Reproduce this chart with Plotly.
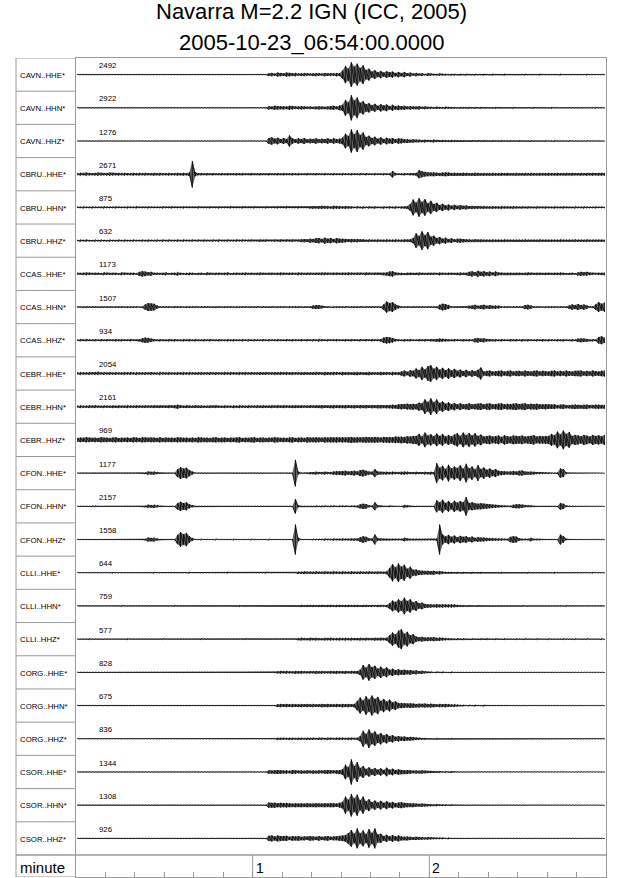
import plotly.graph_objects as go

# seismogram section, 3 minutes from 2005-10-23 06:54:00
# each list: peak amplitude per second (in % of a row height)
title_1 = "Navarra M=2.2 IGN (ICC, 2005)"
title_2 = "2005-10-23_06:54:00.0000"

channels = ["CAVN..HHE*", "CAVN..HHN*", "CAVN..HHZ*",
            "CBRU..HHE*", "CBRU..HHN*", "CBRU..HHZ*",
            "CCAS..HHE*", "CCAS..HHN*", "CCAS..HHZ*",
            "CEBR..HHE*", "CEBR..HHN*", "CEBR..HHZ*",
            "CFON..HHE*", "CFON..HHN*", "CFON..HHZ*",
            "CLLI..HHE*", "CLLI..HHN*", "CLLI..HHZ*",
            "CORG..HHE*", "CORG..HHN*", "CORG..HHZ*",
            "CSOR..HHE*", "CSOR..HHN*", "CSOR..HHZ*"]
max_counts = [2492, 2922, 1276, 2671, 875, 632, 1173, 1507, 934, 2054, 2161, 969,
              1177, 2157, 1558, 644, 759, 577, 828, 675, 836, 1344, 1308, 926]

cavn_hhe = [1,1,1,1,1,1,1,1,1,1, 1,1,1,1,1,1,1,1,1,1, 1,1,1,1,1,1,1,1,1,1,
            1,1,1,1,1,1,1,1,1,1, 1,1,1,1,1,1,1,1,1,1, 1,1,1,1,1,1,1,1,1,1,
            1,1,1,1,1,4,5,3,6,5, 4,6,5,4,5,3,4,5,4,3, 4,5,4,3,5,4,4,3,5,4,
            12,26,18,37,24,33,20,28,14,18, 9,13,7,11,6,10,7,9,5,8, 5,8,4,6,3,5,3,4,2,4,
            3,2,2,3,2,2,1,2,2,1, 2,1,2,1,1,2,1,1,2,1, 1,2,1,1,1,2,1,1,1,1,
            1,1,2,1,1,1,1,2,1,1, 1,1,1,1,2,1,1,1,1,1, 1,1,1,2,1,1,1,1,1,1]
cavn_hhn = [1,1,1,1,1,1,1,1,1,1, 1,1,1,1,1,1,1,1,1,1, 1,1,1,1,1,1,1,1,1,1,
            1,1,1,1,1,1,1,1,1,1, 1,1,1,1,1,1,1,1,1,1, 1,1,1,1,1,1,1,1,1,1,
            1,1,1,1,1,5,4,6,5,4, 5,4,6,5,3,4,5,4,3,4, 3,4,5,4,3,4,5,6,4,7,
            9,24,16,38,22,31,15,20,11,14, 8,12,6,11,7,10,5,9,5,7, 5,6,4,5,4,4,5,3,4,3,
            3,2,3,2,2,3,2,2,2,1, 2,2,1,2,1,2,1,2,1,1, 1,1,2,1,1,1,1,1,2,1,
            1,1,1,1,1,2,1,1,1,1, 1,2,1,1,1,1,1,1,1,1, 1,1,1,1,1,1,2,1,1,1]
cavn_hhz = [1,1,1,1,1,1,1,1,1,1, 1,1,1,1,1,1,1,1,1,1, 1,1,1,1,1,1,1,1,1,1,
            1,1,1,1,1,1,1,1,1,1, 1,1,1,1,1,1,1,1,1,1, 1,1,1,1,1,1,1,1,1,1,
            1,1,1,1,1,9,11,7,10,6, 9,6,17,8,5,8,6,9,5,7, 6,8,5,7,6,8,5,8,6,7,
            10,22,15,35,20,33,18,26,12,16, 9,13,7,11,6,10,7,9,5,8, 7,5,6,4,5,4,4,3,4,3,
            3,4,3,2,3,2,2,3,2,2, 2,2,1,2,2,1,2,1,2,1, 1,2,1,1,2,1,1,2,1,1,
            2,1,1,1,2,1,1,1,1,2, 1,1,2,1,1,1,1,2,1,1, 1,1,1,2,1,1,1,1,1,1]
cbru_hhe = [3,4,3,5,4,3,4,5,4,3, 4,5,4,3,4,3,4,3,3,4, 3,4,3,4,3,3,4,3,4,3,
            3,4,3,3,4,3,4,3,5,40, 6,3,3,2,3,2,3,2,2,3, 2,3,2,2,3,2,3,2,2,3,
            2,2,3,2,2,3,2,2,3,2, 3,2,2,3,2,3,2,2,3,2, 2,3,2,2,3,2,2,3,2,2,
            3,2,2,3,2,2,3,2,3,2, 2,3,2,2,3,2,2,10,3,2, 2,3,2,3,3,4,12,9,7,6,
            5,6,5,4,5,6,5,4,5,4, 4,5,4,3,4,5,4,3,4,3, 3,4,3,3,4,3,4,3,3,4,
            3,3,4,3,4,3,3,4,3,3, 4,3,3,4,3,3,4,3,4,3, 3,4,3,4,3,4,3,4,4,4]
cbru_hhn = [2,2,3,2,2,3,2,2,2,3, 2,2,2,3,2,2,2,3,2,2, 3,2,2,2,3,2,2,2,2,3,
            2,2,3,2,2,2,3,2,2,2, 2,3,2,2,2,3,2,2,3,2, 2,2,3,2,2,2,3,2,2,2,
            3,2,2,2,3,2,2,2,3,2, 2,3,2,2,2,3,2,2,2,3, 4,3,4,5,4,4,3,5,4,4,
            3,4,3,3,2,3,2,3,2,3, 2,3,2,2,3,2,3,2,3,2, 3,3,4,10,24,14,28,16,25,12,
            20,10,14,7,11,6,9,5,8,5, 7,5,6,4,5,4,4,3,4,3, 3,4,3,3,4,3,3,3,4,3,
            2,3,2,3,2,2,3,2,2,3, 2,2,3,2,2,3,2,2,2,3, 2,2,3,2,2,2,3,2,2,2]
cbru_hhz = [2,3,2,3,2,2,3,2,3,2, 2,3,2,2,3,2,3,2,2,3, 2,2,3,2,3,2,2,3,2,3,
            2,3,2,2,3,2,3,2,2,3, 2,3,2,3,2,2,3,2,3,2, 2,3,2,2,3,2,3,2,2,3,
            2,2,3,2,3,2,2,3,2,3, 2,3,2,3,2,2,4,5,4,6, 5,7,8,5,9,6,8,5,8,6,
            6,5,4,5,4,5,4,4,3,4, 3,3,4,3,3,4,3,3,4,3, 3,4,3,4,8,22,14,28,16,26,
            12,15,8,11,6,9,5,7,4,6, 6,5,4,4,3,4,3,4,3,3, 3,4,3,3,3,4,3,3,3,3,
            3,3,4,3,3,3,3,4,3,3, 3,3,3,3,4,3,3,3,3,4, 3,3,3,4,3,3,3,3,3,3]
ccas_hhe = [3,2,3,4,3,2,3,3,2,4, 3,2,3,3,2,4,3,2,3,3, 2,6,8,7,5,6,3,3,2,3,
            4,2,3,3,5,3,2,3,4,3, 2,3,3,2,4,3,2,3,3,2, 3,4,2,3,3,2,3,4,2,3,
            2,3,4,3,2,3,3,2,3,4, 3,2,3,3,2,4,3,2,3,3, 2,3,3,4,4,3,2,3,3,2,
            3,3,4,3,2,3,3,2,4,3, 2,3,3,2,3,4,7,8,4,3, 3,2,3,3,2,3,4,3,2,3,
            3,3,2,4,3,2,3,3,2,3, 4,3,3,6,8,5,9,6,8,5, 7,4,7,4,3,2,3,3,2,3,
            3,2,3,4,3,2,3,3,2,3, 3,2,3,3,4,3,2,3,3,2, 5,6,5,6,4,3,2,3,3,4]
ccas_hhn = [2,1,2,2,1,2,2,1,2,2, 2,2,1,2,2,2,1,2,2,2, 2,1,2,8,12,11,10,5,2,2,
            2,2,1,2,2,2,1,2,2,2, 2,1,2,2,2,1,2,2,2,1, 2,2,2,1,2,2,2,2,1,2,
            2,2,1,2,2,2,2,1,2,2, 2,1,2,2,2,2,1,2,2,2, 5,6,6,4,2,2,1,2,2,2,
            2,2,1,2,2,2,2,1,2,2, 2,2,2,2,8,17,12,15,8,4, 2,2,2,1,2,2,2,2,1,2,
            2,2,2,7,10,9,6,2,2,2, 2,2,2,4,5,7,4,6,7,4, 6,4,5,4,2,2,2,1,2,2,
            2,2,6,7,5,2,2,2,1,2, 2,2,2,1,2,2,2,5,8,6, 9,6,8,5,2,2,8,15,10,14]
ccas_hhz = [2,3,2,3,2,2,3,2,3,2, 3,2,2,3,2,3,2,2,3,2, 2,3,6,8,7,5,3,2,3,2,
            2,3,2,3,2,2,3,2,3,2, 3,2,2,3,2,3,2,2,3,2, 2,3,2,3,2,2,3,2,3,2,
            3,2,2,3,2,3,2,2,3,2, 2,3,2,3,2,2,3,2,3,2, 3,2,4,3,2,3,2,2,3,2,
            2,3,2,3,2,2,3,2,3,2, 3,2,2,3,8,10,9,7,3,2, 2,3,2,3,2,2,3,2,3,2,
            3,2,4,5,4,3,2,2,3,2, 2,3,2,3,2,6,7,5,6,4, 3,2,3,2,3,2,2,3,2,3,
            2,3,2,3,2,2,3,2,3,2, 3,2,2,3,2,3,2,2,3,2, 5,6,5,4,2,3,2,10,12,8]
cebr_hhe = [3,4,3,3,4,3,4,5,3,4, 3,4,3,4,3,3,4,3,4,3, 4,3,3,4,3,4,3,3,5,4,
            3,4,3,3,4,3,4,3,4,3, 3,4,4,3,3,4,3,4,3,3, 4,3,4,3,3,4,3,4,3,4,
            3,3,4,3,4,3,3,4,3,4, 3,4,3,4,3,3,4,4,3,4, 4,5,4,3,5,4,4,5,4,3,
            5,4,4,3,4,5,4,3,4,5, 4,3,4,5,4,4,3,5,4,4, 6,9,5,10,8,15,10,20,12,22,
            25,14,20,11,17,10,16,9,14,8, 12,7,11,6,10,7,11,18,6,8, 9,6,7,8,9,6,8,9,6,8,
            8,6,9,7,6,8,9,6,8,7, 6,8,9,6,8,6,9,7,6,8, 8,9,6,8,6,9,7,6,8,9]
cebr_hhn = [3,4,3,3,4,3,4,3,3,4, 3,3,4,3,4,3,3,4,3,3, 4,3,3,4,3,3,4,3,4,3,
            3,4,3,4,6,4,3,4,3,3, 4,3,4,3,3,4,3,4,3,3, 4,3,3,4,3,4,3,3,4,3,
            3,4,3,4,3,3,4,3,4,3, 4,3,3,4,4,3,4,3,3,4, 3,4,4,5,4,3,4,5,4,4,
            4,5,4,4,5,4,5,4,5,4, 5,4,5,5,4,5,5,6,5,7, 8,7,9,8,9,8,12,10,22,14,
            25,13,22,11,16,9,13,8,11,7, 10,7,8,10,7,8,9,10,7,9, 10,7,8,9,10,7,9,8,9,10,
            8,9,10,7,9,8,9,7,7,8, 7,6,7,5,6,7,5,5,6,7, 6,5,6,7,5,5,6,6,5,6]
cebr_hhz = [6,7,6,8,7,6,7,6,8,7, 7,6,7,8,6,7,6,7,6,8, 7,6,8,7,6,7,7,6,8,6,
            7,6,7,6,8,7,6,7,6,7, 6,8,7,6,7,6,7,8,6,7, 7,6,7,6,7,8,6,7,6,7,
            8,6,7,7,6,7,6,8,7,6, 7,6,7,8,6,7,7,6,8,7, 7,8,7,6,8,7,8,7,8,7,
            8,7,8,9,7,8,7,8,9,8, 8,9,8,7,9,8,9,8,10,9, 10,9,11,10,12,12,18,10,22,13,
            17,11,19,12,18,10,15,11,16,20, 12,22,14,21,13,20,12,16,10,12, 13,10,11,13,9,14,11,10,13,12,
            11,13,10,11,12,14,10,12,11,12, 12,18,14,25,16,28,18,24,12,15, 14,11,15,13,10,15,12,14,11,15]
cfon_hhe = [1,1,1,1,1,1,1,1,1,1, 1,1,1,1,1,1,1,1,1,1, 1,1,1,2,5,4,5,3,1,1,
            1,1,1,1,12,18,14,16,9,4, 1,1,1,1,1,1,1,1,1,1, 1,1,1,1,1,1,1,1,1,1,
            1,1,1,1,1,1,1,1,1,1, 1,1,1,1,40,4,1,1,1,3, 3,4,3,3,4,3,3,5,6,5,
            6,7,5,6,7,5,9,10,7,5, 4,12,5,4,3,4,3,4,3,3, 4,5,4,3,3,4,3,3,4,3,
            4,3,30,16,22,12,25,14,20,15, 24,13,28,14,20,11,24,12,17,10, 14,9,12,7,6,5,4,5,6,5,
            7,8,5,4,5,4,3,3,2,2, 2,1,1,2,14,12,2,1,1,1, 1,1,1,1,1,1,1,1,1,1]
cfon_hhn = [1,1,1,1,1,2,2,1,1,1, 1,1,1,1,1,1,1,1,1,1, 1,1,1,2,5,4,5,3,1,1,
            1,1,1,1,10,14,10,12,6,3, 1,1,1,1,1,1,1,1,1,1, 1,1,1,1,1,1,1,1,1,1,
            1,1,1,1,1,1,1,1,1,1, 1,1,1,1,22,3,1,1,1,1, 1,2,1,2,2,1,2,2,1,2,
            2,2,1,2,2,2,6,8,7,3, 2,12,3,2,1,1,2,1,1,1, 1,4,3,1,1,1,1,1,1,1,
            1,1,18,12,20,10,16,9,17,11, 16,12,28,10,12,9,8,9,8,7, 6,5,4,3,2,2,2,2,5,6,
            6,5,3,2,2,1,1,1,1,1, 1,1,1,1,10,8,2,1,1,1, 1,1,1,1,1,1,1,1,1,1]
cfon_hhz = [1,1,1,1,1,1,1,1,1,1, 1,1,1,1,1,1,1,1,1,1, 1,1,1,2,6,5,6,3,1,1,
            1,1,1,1,14,22,16,20,10,4, 1,1,2,1,1,1,1,2,1,1, 1,1,1,2,1,1,1,1,1,2,
            1,1,1,1,1,2,1,1,1,1, 1,1,1,1,45,5,1,1,1,1, 2,2,2,2,3,2,2,3,2,2,
            3,2,2,3,3,3,7,10,8,4, 3,15,4,3,2,2,2,2,2,2, 2,5,3,2,2,2,2,2,2,2,
            2,2,3,45,15,9,14,8,12,7, 11,8,10,6,9,5,7,6,6,5, 4,4,3,3,3,2,2,8,10,9,
            4,2,2,2,5,2,2,2,1,1, 1,1,1,1,15,10,2,1,1,1, 1,1,1,1,1,1,1,1,1,1]
clli_hhe = [1,1,1,1,1,1,1,1,1,1, 1,1,2,1,1,1,1,1,1,1, 1,1,1,1,1,1,2,1,1,1,
            1,1,1,1,1,1,1,1,2,1, 1,1,1,1,1,1,1,1,1,1, 1,2,1,1,1,1,1,1,1,1,
            1,1,1,1,2,1,1,1,1,1, 1,1,1,1,1,3,3,4,3,3, 3,4,3,3,4,3,3,4,3,3,
            4,3,3,4,3,3,4,3,3,4, 3,3,4,3,3,4,14,26,16,28, 18,24,12,18,9,10,7,6,5,6,
            5,6,4,5,3,2,2,2,1,2, 1,2,1,1,2,1,1,2,1,1, 1,1,1,1,2,1,1,1,1,1,
            1,1,1,2,1,1,1,1,1,1, 1,1,2,1,1,1,1,1,1,1, 1,1,1,1,1,2,1,1,1,1]
clli_hhn = [1,1,1,1,1,1,1,1,1,1, 1,1,1,1,1,2,1,1,1,1, 1,1,1,1,1,1,1,1,1,1,
            1,1,1,2,1,1,1,1,1,1, 1,1,1,1,1,1,1,1,1,1, 1,1,1,1,1,2,1,1,1,1,
            1,1,1,1,1,1,1,1,1,1, 1,1,1,1,1,1,3,2,3,3, 3,2,3,3,2,3,3,2,3,3,
            2,3,3,2,3,3,2,3,3,2, 3,2,3,3,2,3,8,16,12,20, 14,25,15,20,11,15,8,10,6,5,
            5,4,5,4,5,4,4,5,4,3, 2,2,1,2,1,1,2,1,1,1, 1,1,1,1,1,1,1,1,1,1,
            1,2,1,1,1,1,1,1,1,1, 1,1,1,1,1,1,2,1,1,1, 1,1,1,1,1,1,1,1,1,1]
clli_hhz = [1,1,1,1,2,1,1,1,1,1, 1,1,1,1,1,1,1,2,1,1, 1,1,1,1,1,1,1,1,1,2,
            1,1,1,1,1,1,1,1,1,1, 1,1,2,1,1,1,1,1,1,1, 1,1,1,1,1,1,1,2,1,1,
            1,1,1,1,1,1,1,1,1,1, 1,1,1,1,1,3,4,3,3,4, 3,4,3,3,4,3,4,3,3,4,
            3,4,3,4,3,3,4,3,4,3, 3,4,3,4,3,4,12,20,14,25, 30,16,22,12,15,8,6,7,5,6,
            5,6,4,5,4,3,2,2,1,2, 1,2,1,1,2,1,1,2,1,2, 1,1,2,1,1,2,1,1,1,2,
            1,1,2,1,1,1,2,1,1,1, 2,1,1,1,1,2,1,1,1,2, 1,1,1,2,1,1,1,1,2,1]
corg_hhe = [1,1,1,1,1,1,1,1,1,1, 1,1,1,1,1,1,1,1,1,1, 1,1,1,1,1,1,1,1,1,1,
            1,1,1,1,1,1,1,1,1,1, 1,1,1,1,1,1,1,1,1,1, 1,1,1,1,1,1,1,1,1,1,
            1,1,1,1,1,1,1,1,3,4, 3,4,3,3,4,3,4,3,3,4, 3,4,3,4,3,3,4,3,4,3,
            3,4,3,4,3,4,8,22,14,25, 15,20,11,17,10,15,8,11,7,9, 7,8,6,7,5,6,4,5,3,2,
            2,1,2,1,2,1,1,2,1,1, 1,1,1,1,1,1,1,1,1,1, 1,1,1,1,1,1,1,1,1,1,
            1,1,1,1,1,1,1,1,1,1, 1,1,1,1,1,1,1,1,1,1, 1,1,1,1,1,1,1,1,1,1]
corg_hhn = [1,1,1,1,1,1,1,1,1,1, 1,1,1,1,1,1,1,1,1,1, 1,1,1,1,1,1,1,1,1,1,
            1,1,1,1,1,1,1,1,1,1, 1,1,1,1,1,1,1,1,1,1, 1,1,1,1,1,1,1,1,1,1,
            1,1,1,1,1,1,1,1,4,5, 4,5,4,5,4,4,5,4,5,4, 5,4,4,5,4,5,4,4,5,4,
            5,4,5,4,5,14,24,15,28,18, 30,20,26,14,20,12,18,10,13,8, 8,7,6,7,6,5,6,5,6,5,
            6,5,4,5,4,5,4,3,4,3, 2,2,1,2,1,2,1,1,2,1, 1,1,1,1,1,1,1,1,1,1,
            1,1,1,1,1,1,1,1,1,1, 1,1,1,1,1,1,1,1,1,1, 1,1,1,1,1,1,1,1,1,1]
corg_hhz = [1,1,1,1,1,1,1,1,1,1, 1,1,1,1,1,1,1,1,1,1, 1,1,1,1,1,1,1,1,1,1,
            1,1,1,1,1,1,1,1,1,1, 1,1,1,1,1,1,1,1,1,1, 1,1,1,1,1,1,1,1,1,1,
            1,1,1,1,1,1,1,1,3,3, 3,2,3,3,2,3,3,2,3,3, 3,2,3,3,2,3,3,2,3,3,
            3,2,3,3,2,3,8,24,14,28, 16,22,12,17,10,14,8,11,6,8, 6,7,5,6,5,4,3,2,2,1,
            1,1,2,1,1,1,1,2,1,1, 1,1,1,1,1,1,1,1,1,1, 1,1,1,1,1,1,1,1,1,1,
            1,1,1,1,1,1,1,1,1,1, 1,1,1,1,1,1,1,1,1,1, 1,1,1,1,1,1,1,1,1,1]
csor_hhe = [1,1,1,1,1,1,1,1,1,1, 1,1,1,1,1,1,1,1,1,1, 1,1,1,1,1,1,1,1,1,1,
            1,1,1,1,1,1,1,1,1,1, 1,1,1,1,1,1,1,1,1,1, 1,1,1,1,1,1,1,1,1,1,
            1,1,1,1,1,5,4,5,6,5, 4,5,4,6,5,4,5,4,5,4, 5,4,5,4,5,6,5,4,5,6,
            8,22,14,38,18,30,12,18,9,14, 8,12,7,11,6,13,7,10,6,8, 6,5,6,5,4,5,4,5,4,3,
            3,2,2,2,1,2,1,2,1,1, 1,1,1,1,1,1,1,1,1,1, 1,1,1,1,1,1,1,1,1,1,
            1,1,1,1,1,1,1,1,1,1, 1,1,1,1,1,1,1,1,1,1, 1,1,1,1,1,1,1,1,1,1]
csor_hhn = [1,1,1,1,1,1,1,1,1,1, 1,1,1,1,1,1,1,1,1,1, 1,1,1,1,1,1,1,1,1,1,
            1,1,1,1,1,1,1,1,1,1, 1,1,1,1,1,1,1,1,1,1, 1,1,1,1,1,1,1,1,1,1,
            1,1,1,1,1,8,7,8,6,7, 6,7,6,5,6,5,6,5,6,5, 5,6,5,5,6,5,6,6,5,7,
            10,26,16,34,20,32,15,26,12,18, 9,14,8,13,7,12,7,10,6,8, 9,7,6,5,6,5,4,5,4,3,
            3,2,3,2,2,2,1,2,1,1, 1,1,1,1,1,1,1,1,1,1, 1,1,1,1,1,1,1,1,1,1,
            1,1,1,1,1,1,1,1,1,1, 1,1,1,1,1,1,1,1,1,1, 1,1,1,1,1,1,1,1,1,1]
csor_hhz = [1,1,1,1,1,1,1,1,1,1, 1,1,1,1,1,1,1,1,1,1, 1,1,1,1,1,1,1,1,1,1,
            1,1,1,1,1,1,1,1,1,1, 1,1,1,1,1,1,1,1,1,1, 1,1,1,1,1,1,1,1,1,1,
            1,1,1,1,1,8,9,6,9,7, 7,8,5,7,6,7,5,6,5,7, 6,5,7,5,6,7,5,6,5,7,
            8,10,16,25,14,30,15,24,13,28, 16,30,12,14,7,11,6,10,6,9, 6,5,6,5,4,5,4,4,3,4,
            3,2,2,2,2,1,2,1,1,1, 1,1,1,1,1,1,1,1,1,1, 1,1,1,1,1,1,1,1,1,1,
            1,1,1,1,1,1,1,1,1,1, 1,1,1,1,1,1,1,1,1,1, 1,1,1,1,1,1,1,1,1,1]

amplitudes = [cavn_hhe, cavn_hhn, cavn_hhz, cbru_hhe, cbru_hhn, cbru_hhz,
              ccas_hhe, ccas_hhn, ccas_hhz, cebr_hhe, cebr_hhn, cebr_hhz,
              cfon_hhe, cfon_hhn, cfon_hhz, clli_hhe, clli_hhn, clli_hhz,
              corg_hhe, corg_hhn, corg_hhz, csor_hhe, csor_hhn, csor_hhz]

minute_ticks = [60, 120]
minute_labels = ["1", "2"]

frame = "#9a9a9a"
font = "Liberation Sans, Arial, Helvetica, sans-serif"
n = len(channels)
bottom = -(n - 0.5) - 0.6625   # extra strip for the minute scale
left = -60 / 530.0             # label column, in paper units

fig = go.Figure()

for k, amp in enumerate(amplitudes):
    times = [i + 0.5 for i in range(len(amp))]
    upper = [-k + a / 100.0 for a in amp]
    lower = [-k - a / 100.0 for a in amp]
    # grey envelope behind the wiggles, gives the dense look of the bursts
    fig.add_trace(go.Scatter(x=times + times[::-1], y=upper + lower[::-1],
                             mode="lines", fill="toself", fillcolor="rgba(0,0,0,0.6)",
                             line=dict(width=0), hoverinfo="skip", showlegend=False))
    # min/max stroke per second
    xs = []
    ys = []
    for t, lo, hi in zip(times, lower, upper):
        xs += [t, t]
        ys += [lo, hi]
    fig.add_trace(go.Scatter(x=xs, y=ys, mode="lines",
                             line=dict(color="black", width=0.8),
                             hoverinfo="skip", showlegend=False))

shapes = []
# label column
shapes.append(dict(type="line", xref="paper", yref="y", x0=left, x1=left, y0=0.5, y1=bottom,
                   line=dict(color=frame, width=1)))
shapes.append(dict(type="line", xref="paper", yref="y", x0=left, x1=0, y0=0.5, y1=0.5,
                   line=dict(color=frame, width=1)))
shapes.append(dict(type="line", xref="paper", yref="y", x0=left, x1=0, y0=bottom, y1=bottom,
                   line=dict(color=frame, width=1)))
for k in range(n - 1):
    shapes.append(dict(type="line", xref="paper", yref="y", x0=left, x1=0,
                       y0=-k - 0.5, y1=-k - 0.5, line=dict(color=frame, width=1)))
# minute strip
shapes.append(dict(type="line", xref="paper", yref="y", x0=left, x1=1,
                   y0=-(n - 0.5), y1=-(n - 0.5), line=dict(color=frame, width=1.5)))
for m in minute_ticks:
    shapes.append(dict(type="line", xref="x", yref="y", x0=m, x1=m,
                       y0=-(n - 0.5), y1=bottom, line=dict(color=frame, width=1)))

annotations = []
annotations.append(dict(text=title_1, xref="paper", yref="paper", x=0.4434, y=1.0562,
                        xanchor="center", yanchor="middle", showarrow=False,
                        font=dict(size=22, color="black")))
annotations.append(dict(text=title_2, xref="paper", yref="paper", x=0.4434, y=1.0189,
                        xanchor="center", yanchor="middle", showarrow=False,
                        font=dict(size=22, color="black")))
for k in range(n):
    annotations.append(dict(text=channels[k], xref="paper", yref="y", x=-0.1094, y=-k - 0.02,
                            xanchor="left", yanchor="middle", showarrow=False,
                            font=dict(size=7.8, color="black")))
    annotations.append(dict(text=str(max_counts[k]), xref="x", yref="y", x=7.1, y=-k + 0.27,
                            xanchor="left", yanchor="middle", showarrow=False,
                            font=dict(size=7.8, color="black")))
annotations.append(dict(text="minute", xref="paper", yref="y", x=-0.1094, y=-(n - 0.5) - 0.385,
                        xanchor="left", yanchor="middle", showarrow=False,
                        font=dict(size=15, color="black")))
for m, lab in zip(minute_ticks, minute_labels):
    annotations.append(dict(text=lab, xref="x", yref="y", x=m, y=-(n - 0.5) - 0.385, xshift=1,
                            xanchor="left", yanchor="middle", showarrow=False,
                            font=dict(size=14, color="black")))

fig.update_layout(width=640, height=878,
                  margin=dict(l=76, r=34, t=58, b=1),
                  plot_bgcolor="white", paper_bgcolor="white",
                  font=dict(family=font, color="black"),
                  shapes=shapes, annotations=annotations)
fig.update_xaxes(range=[0, 180], showgrid=False, zeroline=False,
                 showline=True, linecolor=frame, linewidth=1, mirror=True,
                 ticks="inside", tick0=0, dtick=10, ticklen=5, tickcolor=frame, tickwidth=1,
                 showticklabels=False)
fig.update_yaxes(range=[bottom, 0.5], showgrid=False, zeroline=False,
                 showline=True, linecolor=frame, linewidth=1, mirror=True,
                 showticklabels=False, ticks="")

# the page's default body margin would push the 640x878 figure off the window
fig.write_html("out.html", config={"displayModeBar": False},
               post_script="document.body.style.margin='0';")
